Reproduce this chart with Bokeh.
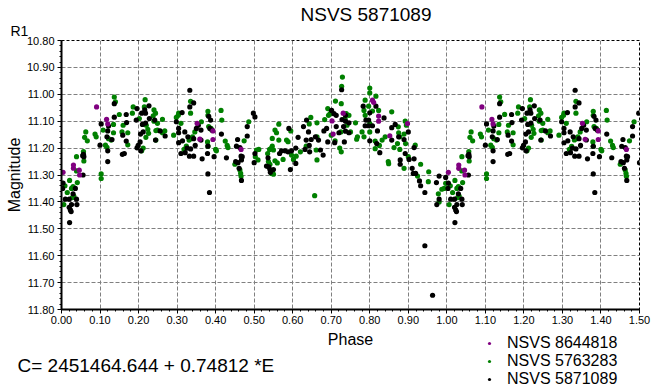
import numpy as np
from bokeh.plotting import figure
from bokeh.models import Range1d, FixedTicker, NumeralTickFormatter, Legend, LegendItem, Title
from bokeh.embed import file_html
from bokeh.resources import INLINE

# ---- data (phase 0..1, folded copies added for phase <= 0.5) ----
purple_phase = [0.004, 0.031, 0.031, 0.046, 0.047, 0.091, 0.117, 0.120, 0.352, 0.359,
                0.393, 0.393, 0.466, 0.702, 0.705, 0.731, 0.807, 0.810, 0.823, 0.823,
                0.852, 0.898]
purple_mag = [11.290, 11.263, 11.275, 11.282, 11.300, 11.047, 11.093, 11.110, 11.108, 11.167,
              11.136, 11.168, 11.205, 11.099, 11.148, 11.070, 11.022, 11.030, 11.081, 11.100,
              11.154, 11.109]

green_phase = [0.009, 0.006, 0.021, 0.015, 0.026, 0.030, 0.032, 0.028, 0.041, 0.039,
               0.039, 0.057, 0.058, 0.060, 0.063, 0.067, 0.087, 0.090, 0.103, 0.103,
               0.108, 0.114, 0.118, 0.122, 0.129, 0.135, 0.135, 0.137, 0.140, 0.150,
               0.157, 0.160, 0.172, 0.172, 0.184, 0.186, 0.202, 0.208, 0.212, 0.215,
               0.217, 0.219, 0.220, 0.224, 0.226, 0.238, 0.240, 0.240, 0.244, 0.245,
               0.245, 0.249, 0.249, 0.262, 0.268, 0.262, 0.291, 0.298, 0.303, 0.304,
               0.310, 0.335, 0.335, 0.331, 0.336, 0.340, 0.346, 0.363, 0.380, 0.380,
               0.382, 0.388, 0.414, 0.416, 0.390, 0.379, 0.380, 0.400, 0.402, 0.318,
               0.324, 0.425, 0.430, 0.432, 0.474, 0.486, 0.450, 0.463, 0.465, 0.466,
               0.506, 0.512, 0.503, 0.510, 0.540, 0.547, 0.547, 0.554, 0.558, 0.564,
               0.564, 0.545, 0.550, 0.584, 0.588, 0.535, 0.537, 0.541, 0.554, 0.560,
               0.545, 0.550, 0.575, 0.595, 0.597, 0.602, 0.609, 0.620, 0.635, 0.643,
               0.647, 0.663, 0.663, 0.661, 0.663, 0.657, 0.683, 0.691, 0.693, 0.697,
               0.700, 0.711, 0.710, 0.726, 0.727, 0.729, 0.725, 0.722, 0.726, 0.736,
               0.739, 0.741, 0.800, 0.800, 0.816, 0.788, 0.785, 0.788, 0.797, 0.807,
               0.823, 0.746, 0.763, 0.750, 0.780, 0.785, 0.768, 0.766, 0.800, 0.800,
               0.857, 0.814, 0.814, 0.825, 0.832, 0.840, 0.892, 0.895, 0.874, 0.875,
               0.878, 0.872, 0.863, 0.878, 0.889, 0.893, 0.918, 0.848, 0.849, 0.889,
               0.900, 0.932, 0.953, 0.924, 0.952, 0.997, 0.993, 0.978, 0.980, 0.987]
green_mag = [11.340, 11.410, 11.320, 11.365, 11.350, 11.343, 11.378, 11.384, 11.328, 11.285,
             11.232, 11.213, 11.248, 11.160, 11.140, 11.173, 11.148, 11.158, 11.296, 11.313,
             11.133, 11.189, 11.197, 11.165, 11.170, 11.112, 11.143, 11.010, 11.028, 11.075,
             11.140, 11.115, 11.143, 11.188, 11.070, 11.047, 11.090, 11.210, 11.200, 11.047,
             11.020, 11.160, 11.115, 11.130, 11.145, 11.080, 11.058, 11.100, 11.070, 11.135,
             11.170, 11.108, 11.133, 11.093, 11.136, 11.143, 11.152, 11.086, 11.078, 11.070,
             11.108, 11.026, 11.070, 11.170, 11.165, 11.158, 11.140, 11.102, 11.063, 11.078,
             11.120, 11.127, 11.060, 11.096, 11.133, 11.177, 11.193, 11.205, 11.210, 11.205,
             11.193, 11.174, 11.190, 11.198, 11.173, 11.102, 11.260, 11.281, 11.294, 11.305,
             11.207, 11.205, 11.232, 11.244, 11.205, 11.164, 11.193, 11.133, 11.143, 11.170,
             11.111, 11.200, 11.207, 11.170, 11.176, 11.220, 11.250, 11.260, 11.247, 11.255,
             11.294, 11.297, 11.242, 11.136, 11.226, 11.242, 11.230, 11.214, 11.193, 11.110,
             11.086, 11.106, 11.158, 11.207, 11.244, 11.377, 11.094, 11.053, 11.078, 11.072,
             11.152, 11.025, 11.173, 11.035, 10.970, 10.936, 11.140, 11.200, 11.214, 11.090,
             11.072, 11.115, 10.977, 10.995, 11.007, 11.022, 11.060, 11.078, 11.044, 11.062,
             11.060, 11.078, 11.106, 11.140, 11.140, 11.158, 11.158, 11.167, 11.140, 11.109,
             11.065, 11.174, 11.202, 11.190, 11.170, 11.158, 11.100, 11.115, 11.121, 11.143,
             11.158, 11.183, 11.198, 11.205, 11.148, 11.183, 11.189, 11.250, 11.258, 11.275,
             11.232, 11.260, 11.288, 11.304, 11.325, 11.331, 11.350, 11.370, 11.400, 11.353]

black_phase = [0.004, 0.003, 0.010, 0.020, 0.030, 0.036, 0.039, 0.040, 0.020, 0.023,
               0.025, 0.021, 0.026, 0.056, 0.380, 0.384, 0.467, 0.542, 0.594, 0.057,
               0.058, 0.055, 0.137, 0.137, 0.103, 0.122, 0.120, 0.118, 0.131, 0.100,
               0.120, 0.120, 0.168, 0.169, 0.159, 0.168, 0.163, 0.158, 0.196, 0.194,
               0.208, 0.218, 0.218, 0.216, 0.227, 0.228, 0.210, 0.212, 0.205, 0.204,
               0.199, 0.196, 0.206, 0.244, 0.242, 0.256, 0.269, 0.333, 0.343, 0.333,
               0.313, 0.298, 0.304, 0.304, 0.320, 0.328, 0.314, 0.304, 0.326, 0.335,
               0.310, 0.321, 0.332, 0.343, 0.347, 0.350, 0.355, 0.362, 0.362, 0.343,
               0.382, 0.387, 0.385, 0.391, 0.379, 0.380, 0.396, 0.365, 0.415, 0.428,
               0.457, 0.454, 0.463, 0.466, 0.467, 0.458, 0.452, 0.461, 0.482, 0.498,
               0.482, 0.469, 0.502, 0.502, 0.500, 0.532, 0.538, 0.541, 0.536, 0.550,
               0.566, 0.571, 0.580, 0.588, 0.597, 0.608, 0.608, 0.590, 0.614, 0.628,
               0.636, 0.641, 0.635, 0.632, 0.643, 0.648, 0.644, 0.659, 0.667, 0.672,
               0.679, 0.681, 0.688, 0.691, 0.701, 0.707, 0.713, 0.713, 0.709, 0.720,
               0.728, 0.732, 0.737, 0.737, 0.737, 0.734, 0.727, 0.783, 0.816, 0.800,
               0.790, 0.797, 0.788, 0.797, 0.807, 0.746, 0.746, 0.837, 0.857, 0.866,
               0.857, 0.800, 0.820, 0.818, 0.826, 0.875, 0.889, 0.900, 0.915, 0.892,
               0.879, 0.879, 0.902, 0.915, 0.910, 0.913, 0.919, 0.929, 0.932, 0.943,
               0.980, 0.973, 0.997, 0.980, 0.974, 0.943, 0.963]
black_mag = [11.330, 11.350, 11.390, 11.390, 11.370, 11.350, 11.390, 11.410, 11.420, 11.430,
             11.436, 11.477, 11.410, 11.300, 11.296, 11.365, 11.320, 11.290, 11.280, 11.223,
             11.232, 11.228, 11.035, 11.085, 11.110, 11.118, 11.136, 11.158, 11.168, 11.189,
             11.210, 11.250, 11.075, 11.105, 11.152, 11.174, 11.220, 11.223, 11.053, 11.096,
             11.070, 11.070, 11.107, 11.058, 11.043, 11.090, 11.112, 11.140, 11.148, 11.177,
             11.190, 11.199, 11.210, 11.170, 11.096, 11.136, 11.155, 10.985, 11.032, 11.047,
             11.068, 11.102, 11.127, 11.143, 11.140, 11.158, 11.173, 11.180, 11.200, 11.203,
             11.220, 11.217, 11.230, 11.230, 11.190, 11.127, 11.115, 11.133, 11.170, 11.165,
             11.082, 11.096, 11.127, 11.133, 11.220, 11.193, 11.232, 11.240, 11.148, 11.236,
             11.168, 11.193, 11.198, 11.230, 11.244, 11.254, 11.250, 11.275, 11.120, 11.070,
             11.155, 11.232, 11.084, 11.220, 11.254, 11.267, 11.270, 11.280, 11.236, 11.280,
             11.220, 11.210, 11.210, 11.214, 11.210, 11.200, 11.257, 11.127, 11.160, 11.120,
             11.096, 11.140, 11.170, 11.205, 11.190, 11.168, 11.214, 11.158, 11.170, 11.207,
             11.226, 11.136, 11.127, 11.177, 11.060, 11.072, 11.078, 11.120, 11.180, 11.143,
             11.094, 11.120, 11.078, 11.100, 11.137, 11.177, 10.983, 11.044, 11.044, 11.069,
             11.096, 11.096, 11.117, 11.117, 11.117, 11.106, 11.143, 11.088, 11.124, 11.112,
             11.170, 11.173, 11.136, 11.183, 11.217, 11.158, 11.168, 11.140, 11.198, 11.220,
             11.244, 11.260, 11.242, 11.240, 11.275, 11.294, 11.294, 11.322, 11.340, 11.365,
             11.304, 11.328, 11.309, 11.390, 11.410, 11.563, 11.747]

series_names = ["NSVS 8644818", "NSVS 5763283", "NSVS 5871089"]
series_colors = ["#800080", "#008000", "#000000"]
x_ticks = [0.00, 0.10, 0.20, 0.30, 0.40, 0.50, 0.60, 0.70, 0.80, 0.90, 1.00, 1.10, 1.20, 1.30, 1.40, 1.50]
y_ticks = [10.80, 10.90, 11.00, 11.10, 11.20, 11.30, 11.40, 11.50, 11.60, 11.70, 11.80]
title_text = "NSVS 5871089"
y_unit_text = "R1"
x_label = "Phase"
y_label = "Magnitude"
ephemeris_text = "C= 2451464.644 + 0.74812 *E"

FONT = "Liberation Sans"
FRAME_L, FRAME_T = 61, 40
FRAME_W, FRAME_H = 578, 269
FRAME_R = FRAME_L + FRAME_W      # 639
FRAME_B = FRAME_T + FRAME_H      # 309


def folded(ph, mg):
    ph = np.array(ph)
    mg = np.array(mg)
    m = ph <= 0.5
    return np.concatenate([ph, ph[m] + 1.0]), np.concatenate([mg, mg[m]])


def set_or(obj, attr, val, fallback):
    try:
        setattr(obj, attr, val)
    except Exception:
        setattr(obj, attr, fallback)


p = figure(frame_width=FRAME_W, frame_height=FRAME_H, output_backend="svg", toolbar_location=None,
           x_range=Range1d(0.0, 1.5), y_range=Range1d(11.80, 10.80), title=None,
           min_border_left=FRAME_L, min_border_right=667 - FRAME_R, min_border_top=FRAME_T,
           min_border_bottom=391 - FRAME_B)
p.background_fill_color = "white"
p.border_fill_color = "white"
p.outline_line_color = "black"
p.outline_line_dash = "3 2"
p.outline_line_width = 1

# unit text (closest to the frame), then the chart title above it
t_unit = Title(text=y_unit_text, align="left", offset=10 - FRAME_L, text_font=FONT,
               text_font_size="14px", text_font_style="normal", text_color="black",
               vertical_align="bottom", standoff=3)
p.add_layout(t_unit, "above")
t_main = Title(text=title_text, align="left", offset=300 - FRAME_L, text_font=FONT,
               text_font_size="19px", text_font_style="normal", text_color="black",
               vertical_align="bottom", standoff=0)
set_or(t_main, "standoff", -11, 0)
p.add_layout(t_main, "above")

for ax, ticks in ((p.xaxis[0], x_ticks), (p.yaxis[0], y_ticks)):
    minors = list(np.round(np.arange(ticks[0], ticks[-1] + 1e-9, 0.02), 2))
    ax.ticker = FixedTicker(ticks=ticks, minor_ticks=minors)
    ax.formatter = NumeralTickFormatter(format="0.00")
    ax.axis_line_width = 2
    ax.axis_line_color = "black"
    ax.major_tick_out = 4
    ax.major_tick_in = 0
    ax.minor_tick_out = 2
    ax.minor_tick_in = 0
    ax.major_label_text_font = FONT
    ax.major_label_text_font_size = "11px"
    ax.major_label_text_color = "black"
    ax.axis_label_text_font = FONT
    ax.axis_label_text_font_size = "16px"
    ax.axis_label_text_font_style = "normal"
    ax.axis_label_text_color = "black"

p.xaxis.major_label_standoff = 2
p.yaxis.major_label_standoff = 3
p.xaxis.axis_label = x_label
p.xaxis.axis_label_standoff = 4
p.yaxis.axis_label = y_label
p.yaxis.axis_label_standoff = 1

# ephemeris text below the x axis
t_eph = Title(text=ephemeris_text, align="left", offset=17 - FRAME_L, text_font=FONT,
              text_font_size="19px", text_font_style="normal", text_color="black",
              vertical_align="top", standoff=8)
p.add_layout(t_eph, "below")

p.grid.grid_line_color = "#808080"
p.grid.grid_line_dash = "4 2"
p.grid.grid_line_width = 1

for (ph, mg), color in [(folded(green_phase, green_mag), series_colors[1]),
                        (folded(black_phase, black_mag), series_colors[2]),
                        (folded(purple_phase, purple_mag), series_colors[0])]:
    p.scatter(ph, mg, size=5.2, fill_color=color, line_color=None)

# series key in the right panel, drawn below the frame (key glyphs hold no visible data)
key_renderers = [p.scatter([np.nan], [np.nan], size=3.5, fill_color=c, line_color=None)
                 for c in series_colors]
legend = Legend(items=[LegendItem(label=n, renderers=[r]) for n, r in zip(series_names, key_renderers)],
                orientation="vertical",
                label_text_font=FONT, label_text_font_size="16px", label_text_color="black",
                label_height=16, glyph_height=16, glyph_width=8, label_standoff=14, label_width=0,
                spacing=0, padding=0, margin=-60,
                border_line_color=None, background_fill_alpha=0)
legend.location = (485 - FRAME_R, FRAME_B - 334 - 54)
p.add_layout(legend, "right")

open("out.html", "w").write(file_html(p, INLINE))
